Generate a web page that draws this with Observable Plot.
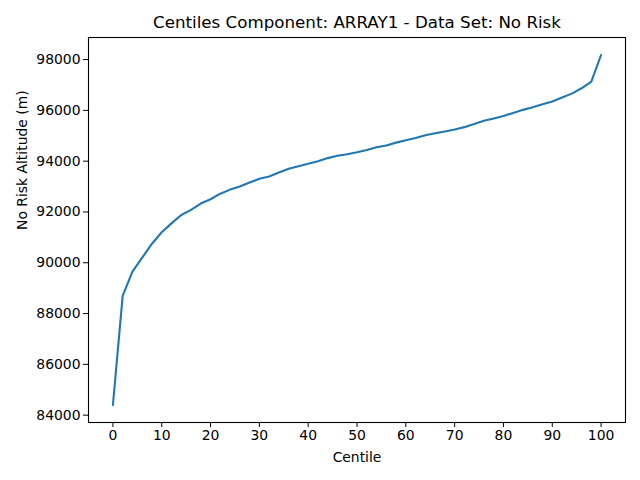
<!DOCTYPE html>
<html>
<head>
<meta charset="utf-8">
<script src="https://cdn.jsdelivr.net/npm/d3@7"></script>
<script src="https://cdn.jsdelivr.net/npm/@observablehq/plot@0.6"></script>
<style>
  html, body { margin: 0; padding: 0; background: #fff; }
  svg { display: block; }
</style>
</head>
<body>
<div id="chart"></div>
<script>
const centiles = [0,2,4,6,8,10,12,14,16,18,20,22,24,26,28,30,32,34,36,38,40,42,44,46,48,50,52,54,56,58,60,62,64,66,68,70,72,74,76,78,80,82,84,86,88,90,92,94,96,98,100];
const altitudes = [84400,88700,89650,90200,90750,91200,91550,91880,92080,92330,92500,92720,92880,93000,93160,93310,93400,93550,93700,93800,93900,94000,94120,94210,94270,94350,94440,94550,94620,94730,94820,94910,95020,95100,95170,95250,95340,95460,95590,95680,95780,95900,96020,96120,96240,96350,96510,96660,96870,97130,98180];
const xTicks = [0,10,20,30,40,50,60,70,80,90,100];
const yTicks = [84000,86000,88000,90000,92000,94000,96000,98000];
const titleText = "Centiles Component: ARRAY1 - Data Set: No Risk";
const xLabel = "Centile";
const yLabel = "No Risk Altitude (m)";

const data = centiles.map((c, i) => ({c, a: altitudes[i]}));
const xMin = d3.min(centiles), xMax = d3.max(centiles);
const yMin = d3.min(altitudes), yMax = d3.max(altitudes);
const xPad = (xMax - xMin) * 0.05, yPad = (yMax - yMin) * 0.05;

const font = "DejaVu Sans, sans-serif";
const chart = Plot.plot({
  width: 640,
  height: 480,
  marginLeft: 88,
  marginRight: 15,
  marginTop: 37,
  marginBottom: 58,
  style: {fontFamily: font, fontSize: "13.9px", color: "#000", background: "#fff"},
  x: {domain: [xMin - xPad, xMax + xPad]},
  y: {domain: [yMin - yPad, yMax + yPad]},
  marks: [
    Plot.axisX({ticks: xTicks, tickSize: 5, tickPadding: 3, tickFormat: d3.format("d"), label: null, fontSize: 13.9, stroke: "#000"}),
    Plot.axisY({ticks: yTicks, tickSize: 5, tickPadding: 3, tickFormat: d3.format("d"), label: null, fontSize: 13.9, stroke: "#000"}),
    Plot.line(data, {x: "c", y: "a", stroke: "#1f77b4", strokeWidth: 2.1}),
    Plot.frame({stroke: "#000", strokeWidth: 1.1}),
    Plot.text([titleText], {frameAnchor: "top", lineAnchor: "middle", dy: -14.5, fontSize: 16.7, fill: "#000"}),
    Plot.text([xLabel], {frameAnchor: "bottom", lineAnchor: "middle", dy: 35, fontSize: 13.9, fill: "#000"}),
    Plot.text([yLabel], {frameAnchor: "left", dx: -66, rotate: -90, fontSize: 13.9, fill: "#000"})
  ]
});
document.getElementById("chart").appendChild(chart);
</script>
</body>
</html>
